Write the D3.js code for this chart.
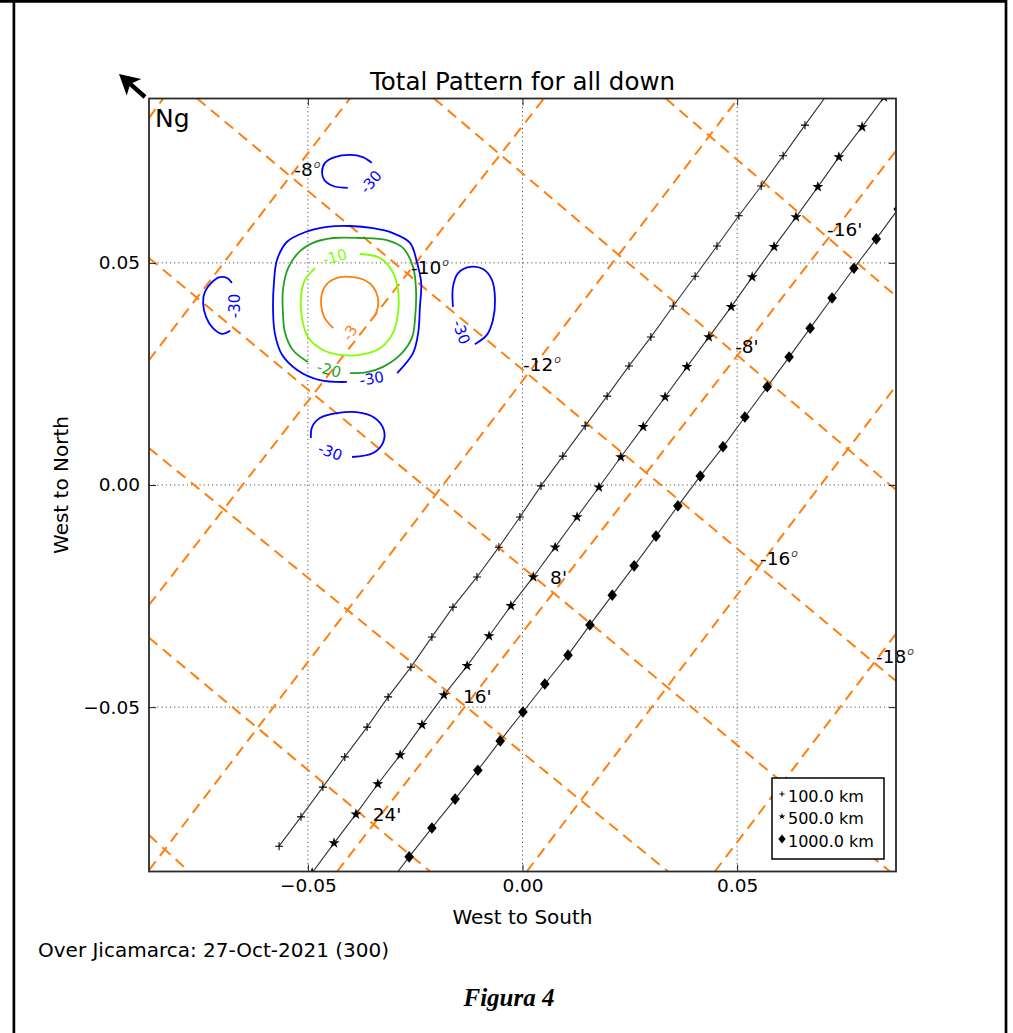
<!DOCTYPE html>
<html>
<head>
<meta charset="utf-8">
<script src="https://cdn.jsdelivr.net/npm/d3@7"></script>
<style>
  html, body { margin: 0; padding: 0; background: #fff; }
  svg { display: block; font-family: "DejaVu Sans", sans-serif; }
</style>
</head>
<body>
<svg id="fig" width="1013" height="1033"></svg>
<script>
// ---------------- data ----------------
const axisDomain = [-0.087, 0.087];
const xTicks = [-0.05, 0, 0.05];
const yTicks = [-0.05, 0, 0.05];

// geographic latitude lines (degrees) crossing the beam, as [start, end] in plot units
const latitudes = [-6, -8, -10, -12, -14, -16, -18];
const latLineEnds = [
  [[-0.0870, 0.0826], [-0.0837, 0.0870]],
  [[-0.0870, 0.0281], [-0.0402, 0.0870]],
  [[-0.0870, -0.0270], [0.0050, 0.0870]],
  [[-0.0870, -0.0867], [0.0502, 0.0870]],
  [[-0.0432, -0.0870], [0.0870, 0.0752]],
  [[0.0010, -0.0870], [0.0870, 0.0223]],
  [[0.0448, -0.0870], [0.0870, -0.0335]]
];
// longitude lines (arc-minutes), as [start, end] in plot units
const longitudes = [-16, -8, 0, 8, 16, 24, 32];
const lonLineEnds = [
  [[0.0334, 0.0870], [0.0870, 0.0425]],
  [[-0.0206, 0.0870], [0.0870, -0.0011]],
  [[-0.0758, 0.0870], [0.0870, -0.0441]],
  [[-0.0870, 0.0511], [0.0856, -0.0870]],
  [[-0.0870, 0.0083], [0.0339, -0.0870]],
  [[-0.0870, -0.0344], [-0.0215, -0.0870]],
  [[-0.0870, -0.0788], [-0.0777, -0.0870]]
];
const latLabelValues = [-8, -10, -12, -16, -18];
const latLabelPos = [[-0.0534, 0.0698], [-0.0262, 0.0477], [-0.0001, 0.0259], [0.0551, -0.0178], [0.0821, -0.0398]];
const lonLabelValues = [-16, -8, 8, 16, 24];
const lonLabelPos = [[0.0707, 0.0563], [0.0493, 0.0299], [0.0062, -0.0221], [-0.0141, -0.0488], [-0.0351, -0.0754]];

// magnetic field lines at three heights
const field100km = [
  [-0.0567, -0.0813], [-0.0516, -0.0747], [-0.0465, -0.0680], [-0.0414, -0.0612], [-0.0362, -0.0545],
  [-0.0313, -0.0477], [-0.0260, -0.0410], [-0.0211, -0.0342], [-0.0162, -0.0275], [-0.0106, -0.0207],
  [-0.0055, -0.0140], [-0.0006, -0.0072], [0.0043, -0.0002], [0.0094, 0.0065], [0.0146, 0.0133],
  [0.0197, 0.0200], [0.0248, 0.0268], [0.0299, 0.0333], [0.0351, 0.0403], [0.0402, 0.0470],
  [0.0453, 0.0538], [0.0504, 0.0606], [0.0556, 0.0673], [0.0607, 0.0741], [0.0658, 0.0810],
  [0.0709, 0.0878]
];
const field500km = [
  [-0.0490, -0.0873], [-0.0439, -0.0806], [-0.0388, -0.0741], [-0.0337, -0.0673], [-0.0285, -0.0608],
  [-0.0234, -0.0540], [-0.0183, -0.0473], [-0.0129, -0.0407], [-0.0078, -0.0340], [-0.0027, -0.0272],
  [0.0025, -0.0207], [0.0076, -0.0140], [0.0127, -0.0072], [0.0178, -0.0005], [0.0229, 0.0063],
  [0.0281, 0.0131], [0.0332, 0.0198], [0.0383, 0.0266], [0.0434, 0.0333], [0.0486, 0.0401],
  [0.0535, 0.0468], [0.0586, 0.0536], [0.0637, 0.0603], [0.0688, 0.0671], [0.0737, 0.0738],
  [0.0791, 0.0806], [0.0842, 0.0873]
];
const field1000km = [
  [-0.0316, -0.0903], [-0.0264, -0.0837], [-0.0211, -0.0772], [-0.0157, -0.0707], [-0.0104, -0.0642],
  [-0.0052, -0.0576], [0.0001, -0.0511], [0.0052, -0.0448], [0.0106, -0.0383], [0.0157, -0.0315],
  [0.0209, -0.0248], [0.0260, -0.0182], [0.0311, -0.0115], [0.0362, -0.0047], [0.0414, 0.0020],
  [0.0467, 0.0086], [0.0518, 0.0153], [0.0570, 0.0221], [0.0621, 0.0288], [0.0670, 0.0353],
  [0.0721, 0.0421], [0.0772, 0.0488], [0.0824, 0.0554], [0.0875, 0.0621]
];
const fieldHeights = ["100.0 km", "500.0 km", "1000.0 km"];

// antenna pattern contour levels (dB) and their traced paths
const contourLevels = [-3, -10, -20, -30];
const contourM3 = [
  [-0.0344, 0.0380], [-0.0337, 0.0401], [-0.0337, 0.0423], [-0.0348, 0.0446], [-0.0367, 0.0461],
  [-0.0395, 0.0468], [-0.0425, 0.0468], [-0.0453, 0.0455], [-0.0467, 0.0432], [-0.0469, 0.0405],
  [-0.0462, 0.0378], [-0.0441, 0.0353]
];
const contourM10 = [
  [-0.0379, 0.0520], [-0.0332, 0.0511], [-0.0302, 0.0479], [-0.0290, 0.0439], [-0.0290, 0.0387],
  [-0.0302, 0.0342], [-0.0332, 0.0308], [-0.0379, 0.0293], [-0.0425, 0.0293], [-0.0465, 0.0304],
  [-0.0500, 0.0333], [-0.0514, 0.0378], [-0.0516, 0.0423], [-0.0507, 0.0461], [-0.0483, 0.0488]
];
const contourM20 = [
  [-0.0500, 0.0277], [-0.0535, 0.0304], [-0.0553, 0.0342], [-0.0558, 0.0387], [-0.0558, 0.0439],
  [-0.0546, 0.0488], [-0.0523, 0.0522], [-0.0488, 0.0545], [-0.0441, 0.0556], [-0.0379, 0.0556],
  [-0.0316, 0.0551], [-0.0278, 0.0533], [-0.0255, 0.0491], [-0.0248, 0.0439], [-0.0250, 0.0378],
  [-0.0257, 0.0333], [-0.0281, 0.0297], [-0.0325, 0.0266], [-0.0362, 0.0254], [-0.0402, 0.0252]
];
const contourM30 = [
  [-0.0409, 0.0232], [-0.0472, 0.0236], [-0.0525, 0.0259], [-0.0560, 0.0293], [-0.0577, 0.0342],
  [-0.0581, 0.0394], [-0.0579, 0.0455], [-0.0572, 0.0506], [-0.0549, 0.0547], [-0.0507, 0.0569],
  [-0.0455, 0.0581], [-0.0402, 0.0583], [-0.0348, 0.0578], [-0.0302, 0.0567], [-0.0262, 0.0545],
  [-0.0246, 0.0502], [-0.0236, 0.0455], [-0.0239, 0.0401], [-0.0243, 0.0342], [-0.0255, 0.0297],
  [-0.0292, 0.0252]
];
const sidelobeTop = [
  [-0.0351, 0.0725], [-0.0372, 0.0738], [-0.0402, 0.0743], [-0.0437, 0.0738], [-0.0460, 0.0725],
  [-0.0467, 0.0705], [-0.0462, 0.0687], [-0.0441, 0.0673], [-0.0407, 0.0669]
];
const sidelobeLeft = [
  [-0.0677, 0.0455], [-0.0688, 0.0466], [-0.0705, 0.0468], [-0.0723, 0.0457], [-0.0740, 0.0434],
  [-0.0744, 0.0410], [-0.0737, 0.0378], [-0.0721, 0.0353], [-0.0700, 0.0340], [-0.0681, 0.0347]
];
const sidelobeRight = [
  [-0.0162, 0.0401], [-0.0162, 0.0446], [-0.0150, 0.0477], [-0.0122, 0.0491], [-0.0092, 0.0486],
  [-0.0071, 0.0461], [-0.0064, 0.0416], [-0.0069, 0.0371], [-0.0083, 0.0338], [-0.0111, 0.0317]
];
const sidelobeBottom = [
  [-0.0493, 0.0106], [-0.0490, 0.0131], [-0.0472, 0.0151], [-0.0432, 0.0162], [-0.0386, 0.0164],
  [-0.0344, 0.0151], [-0.0323, 0.0124], [-0.0325, 0.0095], [-0.0348, 0.0072], [-0.0397, 0.0063]
];
// inline contour labels: [x, y, angle in degrees]
const contourLabelLevels = [-3, -10, -20, -30, -30, -30, -30, -30];
const contourLabelPos = [
  [-0.0402, 0.0342, -60], [-0.0437, 0.0513, -15], [-0.0451, 0.0259, 15], [-0.0351, 0.0239, -10],
  [-0.0353, 0.0682, -50], [-0.0670, 0.0403, -90], [-0.0143, 0.0344, 70], [-0.0448, 0.0074, 20]
];

// ---------------- drawing ----------------
const W = 1013, H = 1033;
const plot = { left: 149, top: 98.5, width: 747, height: 773 };
const svg = d3.select("#fig");

const x = d3.scaleLinear().domain(axisDomain).range([plot.left, plot.left + plot.width]);
const y = d3.scaleLinear().domain(axisDomain).range([plot.top + plot.height, plot.top]);
const line = d3.line().x(d => x(d[0])).y(d => y(d[1]));

// page border (open at the bottom)
svg.append("path")
  .attr("d", `M0,1.4H1007M13.9,0V${H}M1006,0V${H}`)
  .attr("fill", "none").attr("stroke", "#000").attr("stroke-width", 2.7);

svg.append("defs").append("clipPath").attr("id", "plotClip")
  .append("rect").attr("x", plot.left).attr("y", plot.top)
  .attr("width", plot.width).attr("height", plot.height);

const inner = svg.append("g").attr("clip-path", "url(#plotClip)");

// dotted grid
inner.append("g").selectAll("line").data(xTicks).join("line")
  .attr("x1", d => x(d)).attr("x2", d => x(d))
  .attr("y1", plot.top).attr("y2", plot.top + plot.height)
  .attr("stroke", "#555").attr("stroke-width", 1).attr("stroke-dasharray", "1.2,3");
inner.append("g").selectAll("line").data(yTicks).join("line")
  .attr("y1", d => y(d)).attr("y2", d => y(d))
  .attr("x1", plot.left).attr("x2", plot.left + plot.width)
  .attr("stroke", "#555").attr("stroke-width", 1).attr("stroke-dasharray", "1.2,3");

// latitude / longitude grid
const geoColor = "#ff7f0e";
inner.append("g").selectAll("path").data(latLineEnds.concat(lonLineEnds)).join("path")
  .attr("d", d => line(d))
  .attr("fill", "none").attr("stroke", geoColor).attr("stroke-width", 2)
  .attr("stroke-dasharray", "11,7");

// antenna pattern contours
const levelColor = { "-3": "#ff7f0e", "-10": "#7fff00", "-20": "#22a022", "-30": "#0000ff" };
const contours = [
  { level: -3, pts: contourM3 },
  { level: -10, pts: contourM10 },
  { level: -20, pts: contourM20 },
  { level: -30, pts: contourM30 },
  { level: -30, pts: sidelobeTop },
  { level: -30, pts: sidelobeLeft },
  { level: -30, pts: sidelobeRight },
  { level: -30, pts: sidelobeBottom }
];
inner.append("g").selectAll("path").data(contours).join("path")
  .attr("d", d => d3.line().curve(d3.curveCatmullRom).x(p => x(p[0])).y(p => y(p[1]))(d.pts))
  .attr("fill", "none").attr("stroke", d => levelColor[d.level]).attr("stroke-width", 1.8);

inner.append("g").selectAll("text").data(contourLabelPos).join("text")
  .attr("transform", d => `translate(${x(d[0])},${y(d[1])}) rotate(${d[2]})`)
  .attr("text-anchor", "middle").attr("dominant-baseline", "central")
  .attr("font-size", 15).attr("fill", (d, i) => levelColor[contourLabelLevels[i]])
  .text((d, i) => contourLabelLevels[i]);

// magnetic field lines
const fields = [field100km, field500km, field1000km];
inner.append("g").selectAll("path").data(fields).join("path")
  .attr("d", d => line(d))
  .attr("fill", "none").attr("stroke", "#333").attr("stroke-width", 1.1);

const plusPath = r => `M${-r},0H${r}M0,${-r}V${r}`;
const diamondPath = (w, h) => `M0,${-h}L${w},0L0,${h}L${-w},0Z`;
const starPath = s => d3.symbol(d3.symbolStar, s)();

inner.append("g").selectAll("path").data(field100km).join("path")
  .attr("transform", d => `translate(${x(d[0])},${y(d[1])})`)
  .attr("d", plusPath(4)).attr("stroke", "#000").attr("stroke-width", 1.1).attr("fill", "none");
inner.append("g").selectAll("path").data(field500km).join("path")
  .attr("transform", d => `translate(${x(d[0])},${y(d[1])})`)
  .attr("d", starPath(38)).attr("fill", "#000");
inner.append("g").selectAll("path").data(field1000km).join("path")
  .attr("transform", d => `translate(${x(d[0])},${y(d[1])})`)
  .attr("d", diamondPath(4.8, 5.8)).attr("fill", "#000");

// grid line labels
const labelsG = svg.append("g").attr("font-size", 18.5).attr("fill", "#000");
latLabelValues.forEach((v, i) => {
  const t = labelsG.append("text")
    .attr("x", x(latLabelPos[i][0]) + 1).attr("y", y(latLabelPos[i][1]) + 1);
  t.append("tspan").text(v);
  t.append("tspan").attr("font-size", 11).attr("font-style", "italic")
    .attr("fill", "#444").attr("dy", -8).attr("dx", 1).text("o");
});
lonLabelValues.forEach((v, i) => {
  labelsG.append("text")
    .attr("x", x(lonLabelPos[i][0]) + 1).attr("y", y(lonLabelPos[i][1]) + 1)
    .text(v + "'");
});

// axes frame and ticks
const tickFont = 18.5;
function styleAxis(g) {
  g.attr("font-family", null).attr("font-size", null);
  g.select(".domain").remove();
  g.selectAll(".tick line").attr("stroke", "#222").attr("stroke-width", 1);
  g.selectAll(".tick text").attr("font-size", tickFont).attr("fill", "#000");
}
const fmt = d3.format(".2f");
svg.append("g").attr("transform", `translate(0,${plot.top + plot.height})`)
  .call(d3.axisBottom(x).tickValues(xTicks).tickFormat(fmt).tickSizeInner(-7).tickSizeOuter(0).tickPadding(7))
  .call(styleAxis);
svg.append("g").attr("transform", `translate(${plot.left},0)`)
  .call(d3.axisLeft(y).tickValues(yTicks).tickFormat(fmt).tickSizeInner(-7).tickSizeOuter(0).tickPadding(9))
  .call(styleAxis);
svg.append("g").attr("transform", `translate(0,${plot.top})`)
  .call(d3.axisTop(x).tickValues(xTicks).tickFormat(() => "").tickSizeInner(-7).tickSizeOuter(0))
  .call(styleAxis);
svg.append("g").attr("transform", `translate(${plot.left + plot.width},0)`)
  .call(d3.axisRight(y).tickValues(yTicks).tickFormat(() => "").tickSizeInner(-7).tickSizeOuter(0))
  .call(styleAxis);

svg.append("rect").attr("x", plot.left).attr("y", plot.top)
  .attr("width", plot.width).attr("height", plot.height)
  .attr("fill", "none").attr("stroke", "#2a2a2a").attr("stroke-width", 1.8);

// legend
const legend = svg.append("g").attr("transform", "translate(772,778)");
legend.append("rect").attr("width", 112).attr("height", 81)
  .attr("fill", "#fff").attr("stroke", "#000").attr("stroke-width", 1.5);
const legendMarks = [
  g => g.append("path").attr("d", plusPath(2.6)).attr("stroke", "#000").attr("stroke-width", 1).attr("fill", "none"),
  g => g.append("path").attr("d", starPath(14)).attr("fill", "#000"),
  g => g.append("path").attr("d", diamondPath(3.6, 4.4)).attr("fill", "#000")
];
fieldHeights.forEach((label, i) => {
  const row = legend.append("g").attr("transform", `translate(0,${16 + i * 22.5})`);
  legendMarks[i](row.append("g").attr("transform", "translate(10,0)"));
  row.append("text").attr("x", 16).attr("y", 7.5).attr("font-size", 16).text(label);
});

// titles and annotations
svg.append("text").attr("x", plot.left + plot.width / 2).attr("y", 90)
  .attr("text-anchor", "middle").attr("font-size", 24.5).text("Total Pattern for all down");
svg.append("text").attr("x", 155).attr("y", 127).attr("font-size", 25).text("Ng");
svg.append("text").attr("x", plot.left + plot.width / 2).attr("y", 924)
  .attr("text-anchor", "middle").attr("font-size", 20).text("West to South");
svg.append("text").attr("transform", `translate(68,${plot.top + plot.height / 2}) rotate(-90)`)
  .attr("text-anchor", "middle").attr("font-size", 20).text("West to North");
svg.append("text").attr("x", 38).attr("y", 957).attr("font-size", 20)
  .text("Over Jicamarca: 27-Oct-2021 (300)");
svg.append("text").attr("x", 509).attr("y", 1006).attr("text-anchor", "middle")
  .style("font-family", '"Liberation Serif", "Times New Roman", serif')
  .attr("font-weight", "bold").attr("font-style", "italic").attr("font-size", 25)
  .text("Figura 4");

// north arrow
(function () {
  const tip = [119, 74], tail = [145, 97];
  const len = Math.hypot(tail[0] - tip[0], tail[1] - tip[1]);
  const u = [(tail[0] - tip[0]) / len, (tail[1] - tip[1]) / len];
  const n = [-u[1], u[0]];
  const at = (a, b) => [tip[0] + u[0] * a + n[0] * b, tip[1] + u[1] * a + n[1] * b];
  const pts = [at(0, 0), at(20, 11), at(16, 2.2), at(len, 2.2), at(len, -2.2), at(16, -2.2), at(20, -11)];
  svg.append("path").attr("d", "M" + pts.map(p => p.join(",")).join("L") + "Z").attr("fill", "#000");
})();
</script>
</body>
</html>
